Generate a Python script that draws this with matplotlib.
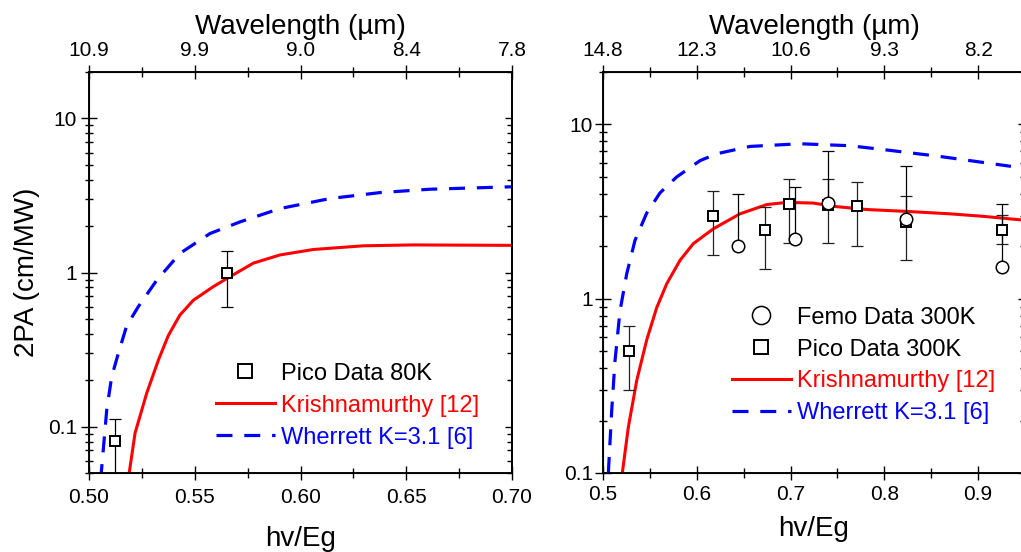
import matplotlib
matplotlib.use('Agg')
import matplotlib.pyplot as plt
from matplotlib.ticker import NullFormatter, LogLocator, FixedLocator

plt.rcParams['font.family'] = ['Liberation Sans', 'DejaVu Sans']

# ---- left panel: 80K ----
k80_x = [0.519, 0.5218, 0.5273, 0.5328, 0.5375, 0.543, 0.5493, 0.5588, 0.5667,
         0.5777, 0.5903, 0.606, 0.6297, 0.6533, 0.70]
k80_y = [0.05, 0.091, 0.165, 0.27, 0.39, 0.53, 0.66, 0.81, 0.94,
         1.15, 1.30, 1.41, 1.49, 1.51, 1.50]
w80_x = [0.5055, 0.5084, 0.5107, 0.5139, 0.5178, 0.5233, 0.532, 0.543, 0.5572,
         0.5714, 0.5903, 0.614, 0.6376, 0.6612, 0.70]
w80_y = [0.045, 0.129, 0.21, 0.30, 0.45, 0.60, 0.89, 1.33, 1.79,
         2.13, 2.60, 3.02, 3.30, 3.47, 3.60]
pico80_x = [0.5123, 0.5651]
pico80_y = [0.081, 1.0]
pico80_lo = [0.04, 0.60]
pico80_hi = [0.112, 1.38]

# ---- right panel: 300K ----
k300_x = [0.5206, 0.527, 0.536, 0.5466, 0.5573, 0.568, 0.5821, 0.5963, 0.6177,
          0.6461, 0.6746, 0.6959, 0.7243, 0.7456, 0.7812, 0.8239, 0.8701, 0.9057, 0.95]
k300_y = [0.1, 0.183, 0.34, 0.58, 0.89, 1.22, 1.66, 2.07, 2.52,
          3.07, 3.47, 3.57, 3.54, 3.39, 3.25, 3.17, 3.07, 2.97, 2.82]
w300_x = [0.5057, 0.5093, 0.5128, 0.5181, 0.5253, 0.5341, 0.5466, 0.5608, 0.5786,
          0.6035, 0.6213, 0.6568, 0.7101, 0.7635, 0.8061, 0.8595, 0.9057, 0.935]
w300_y = [0.1, 0.229, 0.44, 0.85, 1.39, 2.16, 3.1, 4.05, 5.0,
          6.2, 6.79, 7.48, 7.75, 7.55, 7.1, 6.55, 6.05, 5.75]
femo_x = [0.6437, 0.7048, 0.7404, 0.8232, 0.926]
femo_y = [2.01, 2.20, 3.54, 2.88, 1.52]
femo_hi = [4.0, 4.37, 7.03, 5.74, 3.48]
pico300_x = [0.528, 0.617, 0.6725, 0.6984, 0.7404, 0.7706, 0.8232, 0.926]
pico300_y = [0.50, 2.98, 2.48, 3.48, 3.45, 3.39, 2.75, 2.49]
pico300_lo = [0.30, 1.78, 1.49, 2.08, 2.08, 2.02, 1.66, 2.05]
pico300_hi = [0.70, 4.14, 3.38, 4.88, 4.84, 4.67, 3.88, 3.03]

# tick labels
bot80_ticks = [0.50, 0.55, 0.60, 0.65, 0.70]
bot80_labels = ['0.50', '0.55', '0.60', '0.65', '0.70']
top80_labels = ['10.9', '9.9', '9.0', '8.4', '7.8']
bot300_ticks = [0.5, 0.6, 0.7, 0.8, 0.9]
bot300_labels = ['0.5', '0.6', '0.7', '0.8', '0.9']
top300_labels = ['14.8', '12.3', '10.6', '9.3', '8.2']
y_ticks = [0.1, 1, 10]
y_labels = ['0.1', '1', '10']

RED = '#ff0000'
BLUE = '#0000ff'
TICK_FS = 15
LABEL_FS = 20
LEG_FS = 17

fig = plt.figure(figsize=(10.21, 5.52), dpi=100)
W, H = 1021.0, 552.0
ax1 = fig.add_axes([89 / W, 79 / H, 423 / W, 401 / H])
ax2 = fig.add_axes([603 / W, 79 / H, 422 / W, 401 / H])


def setup(ax, xlim, ylim, ticks, blabels, tlabels, minor_step, bpad, ylpad, xlabpad):
    ax.set_yscale('log')
    ax.set_xlim(xlim)
    ax.set_ylim(ylim)
    ax.set_xticks(ticks, labels=blabels)
    ax.xaxis.set_minor_locator(FixedLocator([t + minor_step for t in ticks]))
    ax.set_yticks(y_ticks, labels=y_labels)
    ax.yaxis.set_minor_locator(LogLocator(base=10, subs=range(2, 10)))
    ax.yaxis.set_minor_formatter(NullFormatter())
    ax.tick_params(which='both', direction='inout', width=1.0, labelsize=TICK_FS,
                   top=False, right=False)
    ax.tick_params(axis='x', which='major', length=10, pad=bpad)
    ax.tick_params(axis='x', which='minor', length=6.5)
    ax.tick_params(axis='y', which='major', length=11, pad=ylpad)
    ax.tick_params(axis='y', which='minor', length=6)
    for s in ax.spines.values():
        s.set_linewidth(1.1)
    ax.set_xlabel('hv/Eg', fontsize=LABEL_FS, labelpad=xlabpad)

    # top axis: wavelength
    top = ax.twiny()
    top.set_xlim(xlim)
    top.set_xticks(ticks, labels=tlabels)
    top.xaxis.set_minor_locator(FixedLocator([t + minor_step for t in ticks]))
    top.tick_params(which='both', direction='inout', width=1.0, labelsize=TICK_FS)
    top.tick_params(which='major', length=10, pad=4)
    top.tick_params(which='minor', length=6.5)
    top.set_xlabel('Wavelength (\u00b5m)', fontsize=LABEL_FS, labelpad=4.5)
    for s in top.spines.values():
        s.set_linewidth(1.1)

    # right side ticks pointing inward only
    rt = ax.twinx()
    rt.set_yscale('log')
    rt.set_ylim(ylim)
    rt.set_yticks(y_ticks)
    rt.yaxis.set_minor_locator(LogLocator(base=10, subs=range(2, 10)))
    rt.yaxis.set_major_formatter(NullFormatter())
    rt.yaxis.set_minor_formatter(NullFormatter())
    rt.tick_params(which='both', direction='in', width=1.0)
    rt.tick_params(which='major', length=5)
    rt.tick_params(which='minor', length=3.5)
    rt.spines['right'].set_linewidth(1.1)


setup(ax1, (0.50, 0.70), (0.05, 20), bot80_ticks, bot80_labels, top80_labels,
      0.025, 5.5, 3.0, 14)
setup(ax2, (0.50, 0.95), (0.1, 20), bot300_ticks, bot300_labels, top300_labels,
      0.05, 3.5, 1.7, 9)
ax1.set_ylabel('2PA (cm/MW)', fontsize=LABEL_FS, labelpad=6)

dash = (5, 3.7)

# left panel curves and data
ax1.plot(k80_x, k80_y, color=RED, lw=2.2, label='Krishnamurthy [12]', zorder=3)
ax1.plot(w80_x, w80_y, color=BLUE, lw=2.3, dashes=dash, label='Wherrett K=3.1 [6]', zorder=3)
ax1.errorbar(pico80_x, pico80_y,
             yerr=[[y - l for y, l in zip(pico80_y, pico80_lo)],
                   [h - y for y, h in zip(pico80_y, pico80_hi)]],
             fmt='none', ecolor='k', elinewidth=0.9, capsize=4.3, capthick=0.9, zorder=4)
ax1.plot(pico80_x, pico80_y, ls='none', marker='s', ms=6.5, mfc='white', mec='k',
         mew=1.4, label='Pico Data 80K', zorder=5)

h1, l1 = ax1.get_legend_handles_labels()
order1 = [2, 0, 1]
leg1 = ax1.legend([h1[i] for i in order1], [l1[i] for i in order1],
                  loc='upper left', bbox_to_anchor=(0.30, 0.275), frameon=False,
                  fontsize=LEG_FS, handlelength=2.5, handletextpad=0.25,
                  labelspacing=0.42, borderpad=0, borderaxespad=0, markerscale=1.5)
for t, c in zip(leg1.get_texts(), ['k', RED, BLUE]):
    t.set_color(c)

# right panel curves and data
ax2.plot(k300_x, k300_y, color=RED, lw=2.2, label='Krishnamurthy [12]', zorder=3)
ax2.plot(w300_x, w300_y, color=BLUE, lw=2.3, dashes=dash, label='Wherrett K=3.1 [6]', zorder=3)
ax2.errorbar(pico300_x, pico300_y,
             yerr=[[y - l for y, l in zip(pico300_y, pico300_lo)],
                   [h - y for y, h in zip(pico300_y, pico300_hi)]],
             fmt='none', ecolor='#222222', elinewidth=0.9, capsize=4.3, capthick=0.9, zorder=4)
ax2.errorbar(femo_x, femo_y,
             yerr=[[0] * len(femo_y), [h - y for y, h in zip(femo_y, femo_hi)]],
             fmt='none', ecolor='k', elinewidth=0.9, capsize=4.3, capthick=0.9, zorder=4)
ax2.plot(pico300_x, pico300_y, ls='none', marker='s', ms=7, mfc='white', mec='k',
         mew=1.4, label='Pico Data 300K', zorder=5)
ax2.plot(femo_x, femo_y, ls='none', marker='o', ms=9, mfc='white', mec='k',
         mew=1.1, label='Femo Data 300K', zorder=6)

h2, l2 = ax2.get_legend_handles_labels()
order2 = [3, 2, 0, 1]
leg2 = ax2.legend([h2[i] for i in order2], [l2[i] for i in order2],
                  loc='upper left', bbox_to_anchor=(0.305, 0.415), frameon=False,
                  fontsize=LEG_FS, handlelength=2.5, handletextpad=0.25,
                  labelspacing=0.42, borderpad=0, borderaxespad=0, markerscale=1.45)
for t, c in zip(leg2.get_texts(), ['k', 'k', RED, BLUE]):
    t.set_color(c)

fig.savefig('out.png', dpi=100)
